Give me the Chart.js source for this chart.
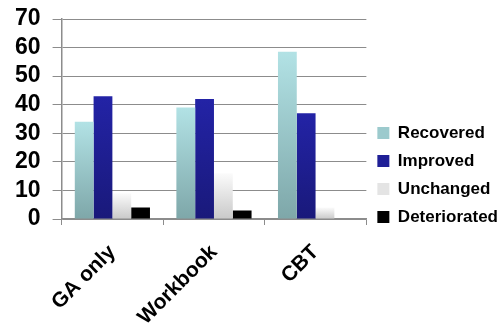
<!DOCTYPE html>
<html>
<head>
<meta charset="utf-8">
<script src="https://cdn.jsdelivr.net/npm/chart.js@4"></script>
<style>
  html, body { margin: 0; padding: 0; background: #fff; }
  #wrap { width: 500px; height: 331px; }
</style>
</head>
<body>
<div id="wrap"><canvas id="chart"></canvas></div>
<script>
const categories = ["GA only", "Workbook", "CBT"];
const recovered = [34, 39, 58.5];
const improved = [43, 42, 37];
const unchanged = [9, 16, 4];
const deteriorated = [4, 3, 0];
const yTicks = [0, 10, 20, 30, 40, 50, 60, 70];

// vertical gradient from bar top to axis, per bar
function barGradient(top, bottom) {
    return function(context) {
        const chart = context.chart;
        const y = chart.scales && chart.scales.y;
        if (!chart.chartArea || !y || context.raw == null) return bottom;
        const y0 = y.getPixelForValue(0);
        const y1 = y.getPixelForValue(context.raw);
        if (y0 - y1 < 1) return bottom;
        const g = chart.ctx.createLinearGradient(0, y1, 0, y0);
        g.addColorStop(0, top);
        g.addColorStop(1, bottom);
        return g;
    };
}

const font = { family: "'Liberation Sans', Arial, sans-serif", weight: "bold" };

new Chart(document.getElementById("chart"), {
    type: "bar",
    data: {
        labels: categories,
        datasets: [
            { label: "Recovered", data: recovered, backgroundColor: barGradient("#b2e2e5", "#7ea7a9"), legendColor: "#9ccacd" },
            { label: "Improved", data: improved, backgroundColor: barGradient("#2323a6", "#19197a"), legendColor: "#1f1f96" },
            { label: "Unchanged", data: unchanged, backgroundColor: barGradient("#fbfbfb", "#c9c9c9"), legendColor: "#e4e4e4" },
            { label: "Deteriorated", data: deteriorated, backgroundColor: "#000000", legendColor: "#000000" }
        ]
    },
    options: {
        responsive: true,
        maintainAspectRatio: false,
        animation: false,
        // negative right padding: the legend text runs to the edge like the original
        layout: { padding: { top: 19, left: 3, right: -8, bottom: 0 } },
        datasets: {
            bar: { categoryPercentage: 0.74, barPercentage: 1.0 }
        },
        plugins: {
            tooltip: { enabled: false },
            legend: {
                position: "right",
                align: "center",
                maxWidth: 170,
                labels: {
                    color: "#000",
                    font: Object.assign({ size: 17 }, font),
                    boxWidth: 12,
                    boxHeight: 12,
                    padding: 11,
                    generateLabels: function(chart) {
                        return chart.data.datasets.map((ds, i) => ({
                            text: ds.label,
                            fillStyle: ds.legendColor,
                            strokeStyle: ds.legendColor,
                            lineWidth: 0,
                            datasetIndex: i,
                            hidden: false
                        }));
                    }
                }
            }
        },
        scales: {
            x: {
                offset: true,
                afterFit: function(axis) {
                    // don't let the rotated labels push the plot inwards
                    axis.paddingLeft = 0;
                    axis.paddingRight = 0;
                    axis.height = 112;
                },
                grid: {
                    offset: true,
                    drawOnChartArea: false,
                    color: "#8c8c8c",
                    tickLength: 6
                },
                border: { color: "#8c8c8c", width: 1.5 },
                ticks: {
                    color: "#000",
                    font: Object.assign({ size: 21 }, font),
                    minRotation: 45,
                    maxRotation: 45,
                    padding: 15
                }
            },
            y: {
                min: 0,
                max: 70,
                afterBuildTicks: function(axis) {
                    axis.ticks = yTicks.map(v => ({ value: v }));
                },
                afterFit: function(axis) {
                    axis.paddingTop = 0;
                    axis.paddingBottom = 0;
                },
                grid: {
                    color: "#8c8c8c",
                    lineWidth: 1,
                    tickLength: 9
                },
                border: { color: "#8c8c8c", width: 1.5 },
                ticks: {
                    color: "#000",
                    font: Object.assign({ size: 23 }, font),
                    padding: 12,
                    autoSkip: false
                }
            }
        }
    }
});
</script>
</body>
</html>
